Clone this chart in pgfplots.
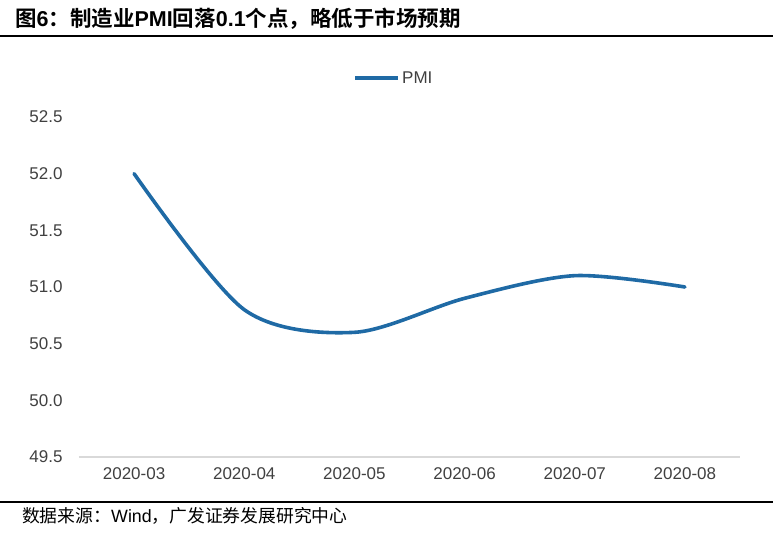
\documentclass[border=0pt]{standalone}
\usepackage{fontspec}
\setmainfont{Liberation Sans}
\newfontfamily\cjk{Noto Sans CJK SC}
\newfontfamily\cjkb{Noto Sans CJK SC Bold}
\usepackage{pgfplots}
\pgfplotsset{compat=1.18}
\definecolor{pmiblue}{RGB}{31,106,165}
\definecolor{txtgray}{RGB}{64,64,64}
\definecolor{axgray}{RGB}{217,217,217}
\begin{document}
\begin{tikzpicture}[x=1pt,y=1pt]
\path[use as bounding box] (-79,-77) rectangle (694,457);
% title
\node[anchor=west,inner sep=0pt] at (-64,438) {\fontsize{21.5}{24}\selectfont{\cjkb 图}{\bfseries 6}{\cjkb ：制造业}{\bfseries PMI}{\cjkb 回落}{\bfseries 0.1}{\cjkb 个点，略低于市场预期}};
\draw[black,line width=1.3pt] (-79,421) -- (694,421);
% source
\draw[black,line width=1.3pt] (-79,-45) -- (694,-45);
\node[anchor=west,inner sep=0pt,text=black] at (-57,-59) {\fontsize{17.8}{20}\selectfont{\cjk 数据来源：}Wind{\cjk ，广发证券发展研究中心}};
\begin{axis}[
  scale only axis, width=661pt, height=340pt,
  xmin=-0.5, xmax=5.5, ymin=49.5, ymax=52.5,
  xtick={0,1,2,3,4,5},
  xticklabels={2020-03,2020-04,2020-05,2020-06,2020-07,2020-08},
  ytick={49.5,50,50.5,51,51.5,52,52.5},
  yticklabel style={/pgf/number format/fixed,/pgf/number format/fixed zerofill,/pgf/number format/precision=1, xshift=-13pt},
  /pgf/number format/assume math mode=true,
  tick label style={font=\fontsize{17}{19}\selectfont, text=txtgray},
  major tick length=0pt,
  axis x line*=bottom,
  axis y line*=left,
  y axis line style={draw=none},
  x axis line style={axgray, line width=1.5pt, -},
  xticklabel style={yshift=-7pt},
  legend style={at={(0.4145,1.1147)}, anchor=west, draw=none, fill=none, inner sep=0pt, font=\fontsize{17}{19}\selectfont, text=txtgray, cells={anchor=west}},
  legend image code/.code={\draw[#1,line width=4pt,line cap=butt] (0pt,0pt) -- (43pt,0pt);},
  clip=false,
]
\addplot[pmiblue, line width=3.6pt, smooth, tension=0.5, line cap=round] coordinates {
(0,52.0) (1,50.8) (2,50.6) (3,50.9) (4,51.1) (5,51.0)
};
\addlegendentry{PMI}
\end{axis}
\end{tikzpicture}
\end{document}
